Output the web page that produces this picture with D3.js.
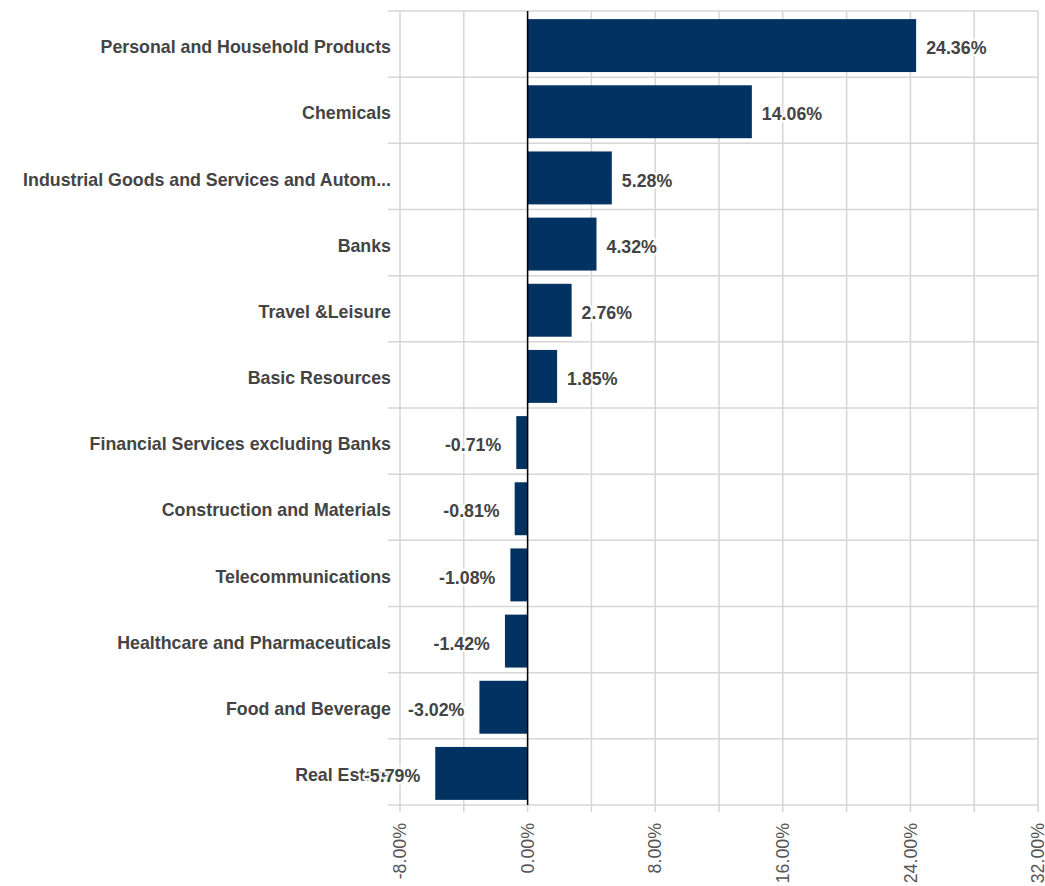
<!DOCTYPE html>
<html>
<head>
<meta charset="utf-8">
<script src="https://cdn.jsdelivr.net/npm/d3@7"></script>
<style>
  body { margin: 0; background: #fff; }
  svg { display: block; font-family: "Liberation Sans", Arial, Helvetica, sans-serif; }
</style>
</head>
<body>
<svg width="1045" height="886"></svg>
<script>
const sectors = [
  'Personal and Household Products',
  'Chemicals',
  'Industrial Goods and Services and Autom...',
  'Banks',
  'Travel &Leisure',
  'Basic Resources',
  'Financial Services excluding Banks',
  'Construction and Materials',
  'Telecommunications',
  'Healthcare and Pharmaceuticals',
  'Food and Beverage',
  'Real Estate'
]
const returns = [24.36, 14.06, 5.28, 4.32, 2.76, 1.85, -0.71, -0.81, -1.08, -1.42, -3.02, -5.79]
const tickValues = [-8, 0, 8, 16, 24, 32]
const gridValues = [-8, -4, 0, 4, 8, 12, 16, 20, 24, 28, 32]

const data = sectors.map((name, i) => ({ name, value: returns[i] }))

const svg = d3.select('svg')
const plotLeft = 400
const plotRight = 1038
const plotTop = 11
const plotBottom = 805

const x = d3.scaleLinear().domain([-8, 32]).range([plotLeft, plotRight])
const y = d3
  .scaleBand()
  .domain(sectors)
  .range([plotTop + 1.5, plotBottom + 1.5])
  .paddingInner(0.2)
  .paddingOuter(0.1)

const rowEdges = d3
  .range(sectors.length + 1)
  .map(i => plotTop + (i * (plotBottom - plotTop)) / sectors.length)

// grid
const grid = svg.append('g').attr('stroke', '#d6d6d6').attr('stroke-width', 1.5)
grid
  .selectAll('line.v')
  .data(gridValues)
  .join('line')
  .attr('class', 'v')
  .attr('x1', d => x(d))
  .attr('x2', d => x(d))
  .attr('y1', plotTop)
  .attr('y2', plotBottom + 7)
grid
  .selectAll('line.h')
  .data(rowEdges)
  .join('line')
  .attr('class', 'h')
  .attr('x1', plotLeft - 12)
  .attr('x2', plotRight)
  .attr('y1', d => d)
  .attr('y2', d => d)

// bars
svg
  .append('g')
  .attr('fill', '#023262')
  .selectAll('rect')
  .data(data)
  .join('rect')
  .attr('x', d => x(Math.min(0, d.value)))
  .attr('width', d => Math.abs(x(d.value) - x(0)))
  .attr('y', d => y(d.name))
  .attr('height', y.bandwidth())

// zero line
svg
  .append('line')
  .attr('x1', x(0))
  .attr('x2', x(0))
  .attr('y1', plotTop)
  .attr('y2', plotBottom)
  .attr('stroke', '#000')
  .attr('stroke-width', 1.5)

// category labels
svg
  .append('g')
  .attr('font-size', 17.8)
  .attr('font-weight', 'bold')
  .attr('fill', '#444')
  .attr('text-anchor', 'end')
  .selectAll('text')
  .data(data)
  .join('text')
  .attr('x', plotLeft - 9)
  .attr('y', d => y(d.name) + y.bandwidth() / 2 + 1.5)
  .attr('dy', '0.35em')
  .text(d => d.name)

// axis tick labels
svg
  .append('g')
  .attr('font-size', 17.8)
  .attr('fill', '#555')
  .attr('text-anchor', 'end')
  .selectAll('text')
  .data(tickValues)
  .join('text')
  .attr('transform', d => `translate(${x(d)},${plotBottom + 18}) rotate(-90)`)
  .attr('dy', '0.35em')
  .text(d => d.toFixed(2) + '%')

// value labels with white halo
svg
  .append('g')
  .attr('font-size', 17.8)
  .attr('font-weight', 'bold')
  .selectAll('text')
  .data(data)
  .join('text')
  .attr('x', d => (d.value >= 0 ? x(d.value) + 10 : x(d.value) - 15))
  .attr('y', d => y(d.name) + y.bandwidth() / 2 + 2.5)
  .attr('dy', '0.35em')
  .attr('text-anchor', d => (d.value >= 0 ? 'start' : 'end'))
  .attr('fill', '#444')
  .attr('stroke', 'rgba(255,255,255,0.85)')
  .attr('stroke-width', 5)
  .attr('stroke-linejoin', 'round')
  .attr('paint-order', 'stroke')
  .text(d => d.value.toFixed(2) + '%')
</script>
</body>
</html>
